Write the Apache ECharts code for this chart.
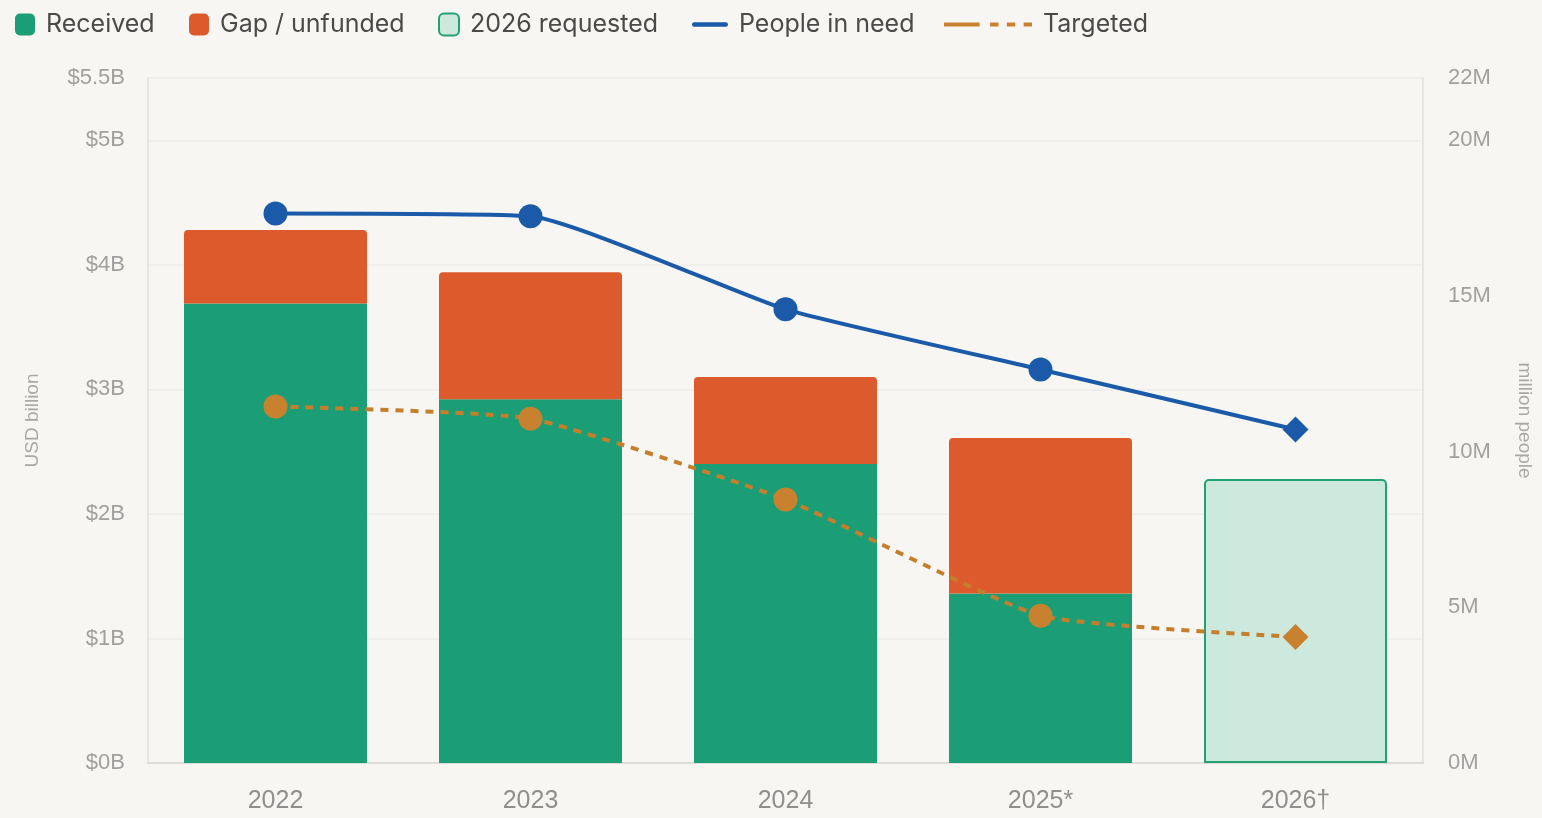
<!DOCTYPE html>
<html>
<head>
<meta charset="utf-8">
<script src="https://cdn.jsdelivr.net/npm/echarts@6/dist/echarts.min.js"></script>
<style>
html,body{margin:0;padding:0;background:#f8f6f2;}
#c{width:1542px;height:818px;}
</style>
</head>
<body>
<div id="c"></div>
<script>
const years = ['2022','2023','2024','2025*','2026\u2020'];
const received = [3.69, 2.92, 2.40, 1.36, '-'];
const gap = [0.59, 1.02, 0.70, 1.25, '-'];
const requested2026 = ['-', '-', '-', '-', 2.28];
const peopleInNeed = [17.65, 17.56, 14.57, 12.64, 10.71];
const targeted = [11.45, 11.06, 8.46, 4.73, 4.05];
const usdTicks = ['$0B','$1B','$2B','$3B','$4B','$5B','$5.5B'];

const chart = echarts.init(document.getElementById('c'));
const fontFam = '"Inter","Noto Sans",sans-serif';
const axisFont = '"Liberation Sans",Arial,sans-serif';
const legendText = {color:'#4a4a4a', fontSize:25, fontFamily:fontFam, padding:[0,0,0,6]};

function lastMark(arr){
  return arr.map((v,i)=> i===arr.length-1 ? {value:v, symbol:'diamond', symbolSize:26} : v);
}

chart.setOption({
  backgroundColor:'#f8f6f2',
  animation:false,
  legend:[
    {left:10, top:7, itemWidth:20, itemHeight:22, textStyle:legendText, data:[{name:'Received', icon:'roundRect'}]},
    {left:184, top:7, itemWidth:20, itemHeight:22, textStyle:legendText, data:[{name:'Gap / unfunded', icon:'roundRect'}]},
    {left:433, top:7, itemWidth:20, itemHeight:22, textStyle:legendText, data:[{name:'2026 requested', icon:'roundRect'}]},
    {left:687, top:7, itemWidth:36, itemHeight:22, textStyle:legendText, data:[{name:'People in need', icon:'path://M0,9 h36 a2.5,2.5 0 0 1 0,5 h-36 a2.5,2.5 0 0 1 0,-5z'}]},
    {left:939, top:7, itemWidth:88, itemHeight:22, textStyle:legendText, data:[{name:'Targeted', icon:'path://M0,9.5h34v4h-34z M44,9.5h8v4h-8z M60,9.5h8v4h-8z M76,9.5h8v4h-8z'}]}
  ],
  grid:{left:148, right:116, top:78, bottom:55},
  xAxis:{
    type:'category', data:years,
    axisLine:{lineStyle:{color:'#d8d6d2', width:1.5}},
    axisTick:{show:false},
    axisLabel:{color:'#8f8f8f', fontSize:25, margin:26, fontFamily:axisFont}
  },
  yAxis:[
    {type:'value', min:0, max:5.5, interval:1,
     name:'USD billion', nameLocation:'middle', nameGap:106, nameRotate:90,
     nameTextStyle:{color:'#a8a8a8', fontSize:19, fontFamily:axisFont},
     axisLine:{show:true, lineStyle:{color:'#e2e0dc', width:1.5}},
     axisTick:{show:false},
     axisLabel:{color:'#a0a0a0', fontSize:22, margin:23, fontFamily:axisFont,
       formatter:v=> v===5.5 ? usdTicks[6] : usdTicks[Math.round(v)]},
     splitLine:{show:true, lineStyle:{color:'#efede8', width:1.5}}
    },
    {type:'value', min:0, max:22, interval:5,
     name:'million people', nameLocation:'middle', nameGap:92, nameRotate:-90,
     nameTextStyle:{color:'#a8a8a8', fontSize:19, fontFamily:axisFont},
     axisLine:{show:true, lineStyle:{color:'#e2e0dc', width:1.5}},
     axisTick:{show:false},
     axisLabel:{color:'#a0a0a0', fontSize:22, margin:25, fontFamily:axisFont,
       formatter:v=> v + 'M'},
     splitLine:{show:false}
    }
  ],
  series:[
    {name:'Received', type:'bar', stack:'f', data:received, barWidth:183,
     itemStyle:{color:'#1b9e75'}},
    {name:'Gap / unfunded', type:'bar', stack:'f', data:gap, barWidth:183,
     itemStyle:{color:'#dc5a2c', borderRadius:[4,4,0,0]}},
    {name:'2026 requested', type:'bar', stack:'f', data:requested2026, barWidth:183,
     itemStyle:{color:'#cde8dc', borderColor:'#22a274', borderWidth:2, borderRadius:[4,4,0,0]}},
    {name:'People in need', type:'line', yAxisIndex:1, data:lastMark(peopleInNeed), smooth:0.15,
     symbol:'circle', symbolSize:24, z:5,
     lineStyle:{color:'#1a5aa8', width:4}, itemStyle:{color:'#1a5aa8'}},
    {name:'Targeted', type:'line', yAxisIndex:1, data:lastMark(targeted), smooth:0.15,
     symbol:'circle', symbolSize:24, z:5,
     lineStyle:{color:'#c47e2c', width:4, type:[8,7]}, itemStyle:{color:'#c8822f'}}
  ]
});
</script>
</body>
</html>
